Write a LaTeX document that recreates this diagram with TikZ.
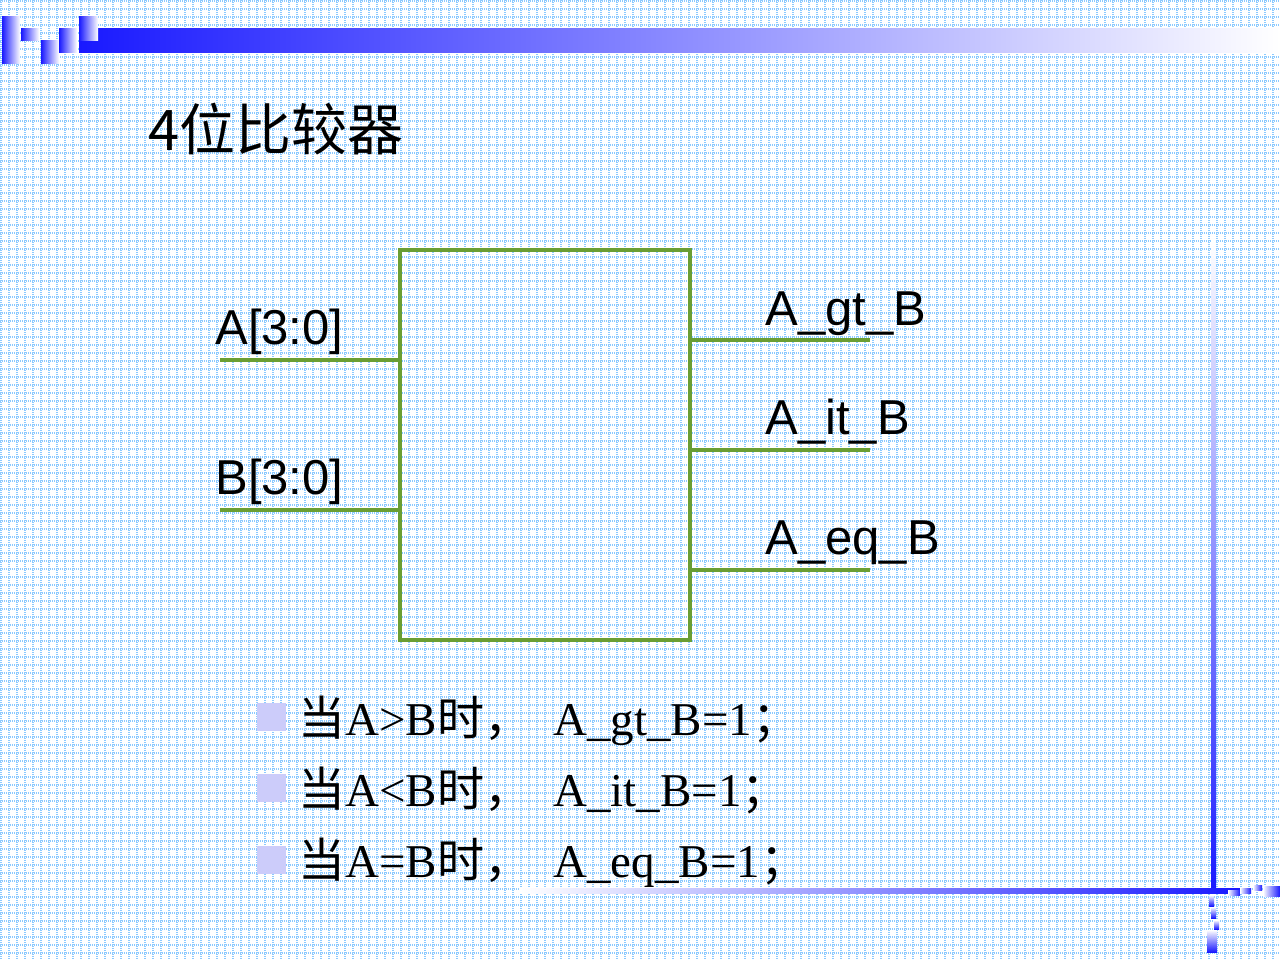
\documentclass[tikz,border=0pt]{standalone}
\usepackage{fontspec}
\setmainfont{Liberation Serif}
\newfontfamily\cjk{Noto Sans CJK SC}
\newfontfamily\labelfont{Liberation Sans}
\usetikzlibrary{calc}
\definecolor{slidegrid}{RGB}{140, 202, 255}
\definecolor{slideblue}{RGB}{25, 25, 255}
\definecolor{wiregreen}{RGB}{106, 158, 52}
\definecolor{bulletlav}{RGB}{204, 204, 250}
\newcommand{\zh}[1]{{\cjk #1}}

\begin{document}
\begin{tikzpicture}[
    x=0.5pt, y=-0.5pt,
    gridline/.style={draw=slidegrid, line width=0.6pt, dash pattern=on 0.5pt off 0.5pt},
    hshade/.style={left color=slideblue, right color=white, draw=none},
    lshade/.style={left color=white, right color=slideblue, draw=none},
    vshade/.style={top color=white, bottom color=slideblue, draw=none},
    compbox/.style={rectangle, draw=wiregreen, line width=1.9pt, minimum width=145pt, minimum height=195pt, inner sep=0pt},
    wire/.style={draw=wiregreen, line width=1.9pt},
    siglabel/.style={anchor=base west, inner sep=0pt, font=\labelfont\fontsize{24.5pt}{29pt}\selectfont},
    titletext/.style={anchor=base west, inner sep=0pt, font=\cjk\fontsize{28pt}{34pt}\selectfont},
    bullettext/.style={anchor=base west, inner sep=0pt, font=\fontsize{23.5pt}{28pt}\selectfont},
    bulletmark/.style={fill=bulletlav, draw=none}
]
\useasboundingbox (0,0) rectangle (1280,960);
\fill[white] (0,0) rectangle (1280,960);

% Background grid
\foreach \gx in {1,9,...,1279}
    \draw[gridline] (\gx,0) -- (\gx,960);
\foreach \gy in {1,9,...,959}
    \draw[gridline] (0,\gy) -- (1280,\gy);

% Top left decoration
\foreach \xa/\ya/\xb/\yb in {2/16/20/63, 21/28/39/40, 41/40/59/63, 59/28/77/52}
    \shade[hshade] (\xa,\ya) rectangle (\xb,\yb);
\shade[hshade] (79,28) rectangle (1280,52);
\shade[hshade] (79,16) rectangle (98,40);

% Right and bottom decoration
\shade[vshade] (1211,240) rectangle (1216,893);
\shade[lshade] (520,888) rectangle (1240,893);
\foreach \xa/\ya/\xb/\yb in {1228/890/1240/895, 1240/888/1251/893, 1253/885/1262/890, 1263/886/1280/896}
    \shade[lshade] (\xa,\ya) rectangle (\xb,\yb);
\foreach \xa/\ya/\xb/\yb in {1209/895/1214/906, 1211/907/1216/918, 1214/920/1219/929, 1207/930/1217/952}
    \shade[vshade] (\xa,\ya) rectangle (\xb,\yb);

% Title
\node[titletext] (title) at (148,150) {4位比较器};

% Comparator
\node[compbox] (comp) at (545,445) {};

% Inputs
\coordinate (ain) at (220,360);
\coordinate (bin) at (220,510);
\draw[wire] (ain) -- (ain -| comp.west);
\draw[wire] (bin) -- (bin -| comp.west);
\node[siglabel] (alabel) at (215,344) {A[3:0]};
\node[siglabel] (blabel) at (215,494) {B[3:0]};

% Outputs
\coordinate (gtout) at (870,340);
\coordinate (itout) at (870,450);
\coordinate (eqout) at (870,570);
\draw[wire] (comp.east |- gtout) -- (gtout);
\draw[wire] (comp.east |- itout) -- (itout);
\draw[wire] (comp.east |- eqout) -- (eqout);
\node[siglabel] (gtlabel) at (765,325) {A\_gt\_B};
\node[siglabel] (itlabel) at (765,434) {A\_it\_B};
\node[siglabel] (eqlabel) at (765,554) {A\_eq\_B};

% Bullets
\fill[bulletmark] (257,703) rectangle (286,731);
\fill[bulletmark] (257,774) rectangle (286,802);
\fill[bulletmark] (257,846) rectangle (286,874);
\node[bullettext] (gtrule) at (298,735) {\makebox[127.5pt][l]{\zh{当}A>B\zh{时，}}A\_gt\_B=1\zh{；}};
\node[bullettext] (itrule) at (298,806) {\makebox[127.5pt][l]{\zh{当}A<B\zh{时，}}A\_it\_B=1\zh{；}};
\node[bullettext] (eqrule) at (298,877) {\makebox[127.5pt][l]{\zh{当}A=B\zh{时，}}A\_eq\_B=1\zh{；}};

\end{tikzpicture}
\end{document}
